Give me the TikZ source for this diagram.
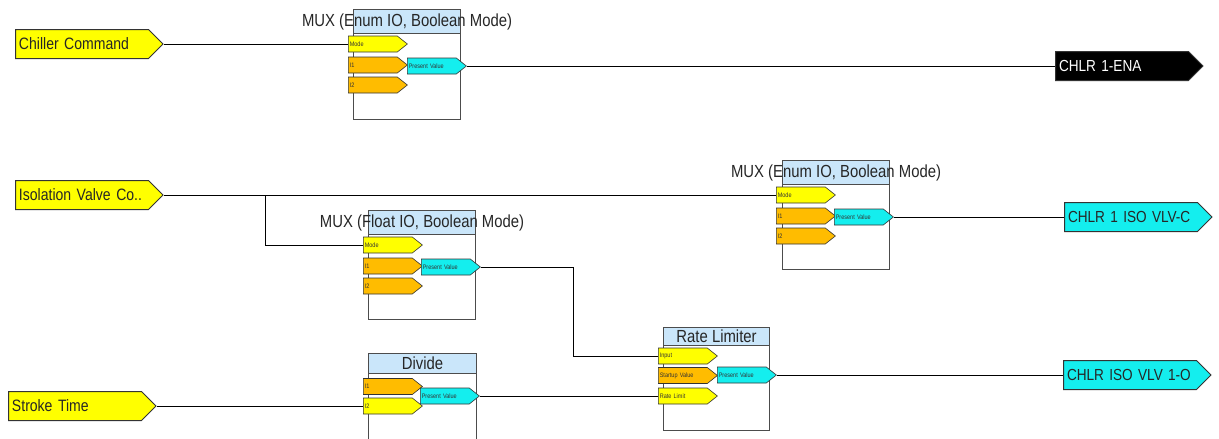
\documentclass[tikz,border=0pt]{standalone}
\usepackage{fontspec}
\setmainfont{Liberation Sans}[FakeStretch=0.85]
\usetikzlibrary{shapes.symbols}
\definecolor{portyellow}{RGB}{255,255,0}
\definecolor{portorange}{RGB}{255,188,0}
\definecolor{portcyan}{RGB}{20,238,238}
\definecolor{barblue}{RGB}{202,230,250}

\begin{document}
\begin{tikzpicture}[x=1pt, y=-1pt,
    wire/.style={draw=black, line width=0.9pt},
    blockbody/.style={draw=black!70, line width=1.1pt, fill=white, minimum width=107pt, minimum height=110pt, anchor=north west, inner sep=0pt},
    titlebar/.style={draw=black!70, line width=1.1pt, fill=barblue, minimum width=107pt, minimum height=24pt, anchor=north west, inner sep=0pt},
    titletext/.style={font=\fontsize{17.5}{17.5}\selectfont, text=black!85, inner sep=0pt},
    portbox/.style={shape=signal, signal to=east, signal pointer angle=77, draw=black!80, line width=0.6pt, minimum height=16pt, text width=46pt, align=left, inner xsep=1.5pt, inner ysep=0pt, anchor=west, font=\fontsize{6.5}{7}\selectfont, text=black!80},
    inbox/.style={shape=signal, signal to=east, signal pointer angle=90, draw=black!80, line width=1pt, fill=portyellow, minimum height=29pt, text width=126pt, align=left, inner xsep=3.5pt, inner ysep=0pt, anchor=west, font=\fontsize{16.5}{16.5}\selectfont, text=black!85},
    outbox/.style={inbox, fill=portcyan, font=\fontsize{16}{16}\selectfont}]

    \useasboundingbox (0,0) rectangle (1219,439);
    \clip (0,0) rectangle (1219,439);

    % Inputs
    \node[inbox] (chillcmd) at (15,44) {Chiller Command};
    \node[inbox] (isovalve) at (15,195) {Isolation Valve Co..};
    \node[inbox] (stroketime) at (8,406) {Stroke Time};

    % Outputs
    \node[outbox, fill=black, text=white] (enaout) at (1055,66) {CHLR 1-ENA};
    \node[outbox] (isocout) at (1064,217) {CHLR 1 ISO VLV-C};
    \node[outbox] (isooout) at (1063,375) {CHLR ISO VLV 1-O};

    % MUX (Enum IO) for the chiller command
    \node[blockbody] (muxa) at (353,9) {};
    \node[titlebar] (muxabar) at (353,9) {};
    \node[titletext] (muxatitle) at (muxabar.center) {MUX (Enum IO, Boolean Mode)};
    \node[portbox, fill=portyellow] (muxamode) at (348,44) {Mode};
    \node[portbox, fill=portorange] (muxaione) at (348,65) {I1};
    \node[portbox, fill=portorange] (muxaitwo) at (348,85) {I2};
    \node[portbox, fill=portcyan] (muxapv) at (407,66) {Present Value};

    % MUX (Enum IO) for the isolation valve
    \node[blockbody, minimum height=109pt] (muxb) at (782,160) {};
    \node[titlebar] (muxbbar) at (782,160) {};
    \node[titletext] (muxbtitle) at (muxbbar.center) {MUX (Enum IO, Boolean Mode)};
    \node[portbox, fill=portyellow] (muxbmode) at (776,195) {Mode};
    \node[portbox, fill=portorange] (muxbione) at (776,216) {I1};
    \node[portbox, fill=portorange] (muxbitwo) at (776,236) {I2};
    \node[portbox, fill=portcyan] (muxbpv) at (834,217) {Present Value};

    % MUX (Float IO)
    \node[blockbody, minimum height=109pt] (muxf) at (368,210) {};
    \node[titlebar] (muxfbar) at (368,210) {};
    \node[titletext] (muxftitle) at (muxfbar.center) {MUX (Float IO, Boolean Mode)};
    \node[portbox, fill=portyellow] (muxfmode) at (363,245) {Mode};
    \node[portbox, fill=portorange] (muxfione) at (363,266) {I1};
    \node[portbox, fill=portorange] (muxfitwo) at (363,286) {I2};
    \node[portbox, fill=portcyan] (muxfpv) at (421,267) {Present Value};

    % Divide
    \node[blockbody, minimum width=108pt] (divide) at (368,353) {};
    \node[titlebar, minimum width=108pt, minimum height=20pt] (dividebar) at (368,353) {};
    \node[titletext] (dividetitle) at (dividebar.center) {Divide};
    \node[portbox, fill=portorange] (divione) at (363,386.5) {I1};
    \node[portbox, fill=portyellow] (divitwo) at (363,406) {I2};
    \node[portbox, fill=portcyan] (divpv) at (420,396) {Present Value};

    % Rate Limiter
    \node[blockbody, minimum width=106pt, minimum height=103pt] (ratelim) at (663,327) {};
    \node[titlebar, minimum width=106pt, minimum height=18pt] (ratelimbar) at (663,327) {};
    \node[titletext] (ratelimtitle) at (ratelimbar.center) {Rate Limiter};
    \node[portbox, fill=portyellow] (rlinput) at (658,356) {Input};
    \node[portbox, fill=portorange] (rlstart) at (658,375.5) {Startup Value};
    \node[portbox, fill=portyellow] (rlrate) at (658,396) {Rate Limit};
    \node[portbox, fill=portcyan] (rlpv) at (717,375) {Present Value};

    % Wires
    \draw[wire] (chillcmd.east) -- (muxamode.west);
    \draw[wire] (muxapv.east) -- (enaout.west);
    \draw[wire] (isovalve.east) -- (muxbmode.west);
    \coordinate (isotap) at (265,195);
    \draw[wire] (isotap) |- (muxfmode.west);
    \draw[wire] (muxbpv.east) -- (isocout.west);
    \coordinate (pvbend) at (573,267);
    \draw[wire] (muxfpv.east) -| (pvbend |- rlinput.west) -- (rlinput.west);
    \draw[wire] (stroketime.east) -- (divitwo.west);
    \draw[wire] (divpv.east) -- (rlrate.west);
    \draw[wire] (rlpv.east) -- (isooout.west);

\end{tikzpicture}
\end{document}
